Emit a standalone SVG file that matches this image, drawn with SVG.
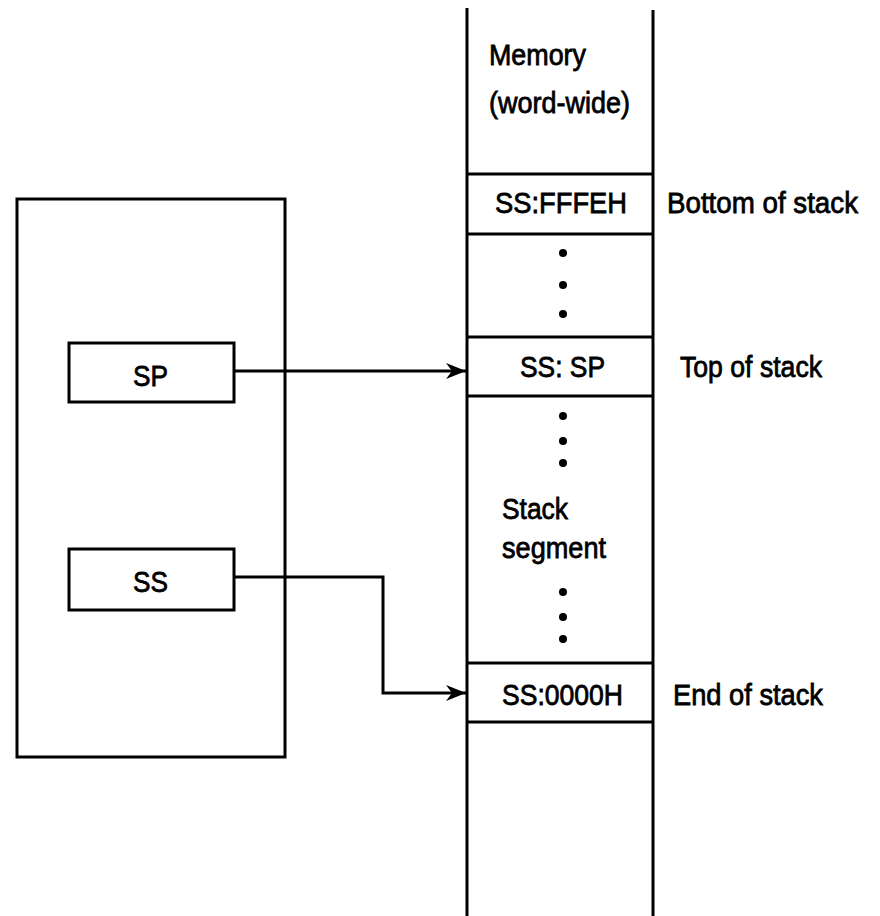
<svg xmlns="http://www.w3.org/2000/svg" width="880" height="916" viewBox="0 0 880 916">
  <style>
    .ln { fill: none; stroke: #000; stroke-width: 3; }
    .bx { fill: #fff; stroke: #000; stroke-width: 3; }
    .tx { font-family: "Liberation Sans", Arial, sans-serif; font-size: 30px; fill: #000; stroke: #000; stroke-width: 0.8; }
    .dot { fill: #000; }
  </style>
  <defs>
    <marker id="arrow" markerUnits="userSpaceOnUse" markerWidth="24" markerHeight="20" refX="20" refY="9" orient="auto">
      <path d="M20,9 L0,1 L6,9 L0,17 Z" fill="#000"/>
    </marker>
  </defs>
  <rect width="880" height="916" fill="#fff"/>

  <!-- CPU block with its two registers -->
  <g id="cpu">
    <rect class="bx" x="17" y="199" width="268" height="558"/>
  </g>
  <g id="reg-sp">
    <rect class="bx" x="69" y="343" width="165" height="59"/>
    <text class="tx" x="133" y="386" textLength="35" lengthAdjust="spacingAndGlyphs">SP</text>
  </g>
  <g id="reg-ss">
    <rect class="bx" x="69" y="549" width="165" height="61"/>
    <text class="tx" x="133" y="592" textLength="35" lengthAdjust="spacingAndGlyphs">SS</text>
  </g>

  <!-- memory column -->
  <g id="memory">
    <line class="ln" x1="467" y1="8" x2="467" y2="916"/>
    <line class="ln" x1="653" y1="10" x2="653" y2="916"/>
    <text class="tx" x="489" y="65" textLength="97" lengthAdjust="spacingAndGlyphs">Memory</text>
    <text class="tx" x="489" y="113" textLength="141" lengthAdjust="spacingAndGlyphs">(word-wide)</text>
  </g>

  <g id="cell-bottom">
    <line class="ln" x1="467" y1="174" x2="653" y2="174"/>
    <line class="ln" x1="467" y1="234" x2="653" y2="234"/>
    <text class="tx" x="495" y="213" textLength="132" lengthAdjust="spacingAndGlyphs">SS:FFFEH</text>
    <text class="tx" x="667" y="213" textLength="191" lengthAdjust="spacingAndGlyphs">Bottom of stack</text>
  </g>

  <g id="dots-upper">
    <circle class="dot" cx="563" cy="253" r="4"/>
    <circle class="dot" cx="563" cy="285" r="4"/>
    <circle class="dot" cx="563" cy="314" r="4"/>
  </g>

  <g id="cell-top">
    <line class="ln" x1="467" y1="337" x2="653" y2="337"/>
    <line class="ln" x1="467" y1="396" x2="653" y2="396"/>
    <text class="tx" x="520" y="377" textLength="85" lengthAdjust="spacingAndGlyphs">SS: SP</text>
    <text class="tx" x="680" y="377" textLength="142" lengthAdjust="spacingAndGlyphs">Top of stack</text>
  </g>

  <g id="stack-segment">
    <circle class="dot" cx="563" cy="416" r="4"/>
    <circle class="dot" cx="563" cy="441" r="4"/>
    <circle class="dot" cx="563" cy="463" r="4"/>
    <text class="tx" x="502" y="519" textLength="66" lengthAdjust="spacingAndGlyphs">Stack</text>
    <text class="tx" x="502" y="558" textLength="104" lengthAdjust="spacingAndGlyphs">segment</text>
    <circle class="dot" cx="563" cy="592" r="4"/>
    <circle class="dot" cx="563" cy="617" r="4"/>
    <circle class="dot" cx="563" cy="639" r="4"/>
  </g>

  <g id="cell-end">
    <line class="ln" x1="467" y1="663" x2="653" y2="663"/>
    <line class="ln" x1="467" y1="722" x2="653" y2="722"/>
    <text class="tx" x="502" y="705" textLength="121" lengthAdjust="spacingAndGlyphs">SS:0000H</text>
    <text class="tx" x="673" y="705" textLength="150" lengthAdjust="spacingAndGlyphs">End of stack</text>
  </g>

  <!-- register pointers into memory -->
  <g id="connectors">
    <path class="ln" d="M234,371 H466" marker-end="url(#arrow)"/>
    <path class="ln" d="M234,577 H383 V693 H466" marker-end="url(#arrow)"/>
  </g>
</svg>
